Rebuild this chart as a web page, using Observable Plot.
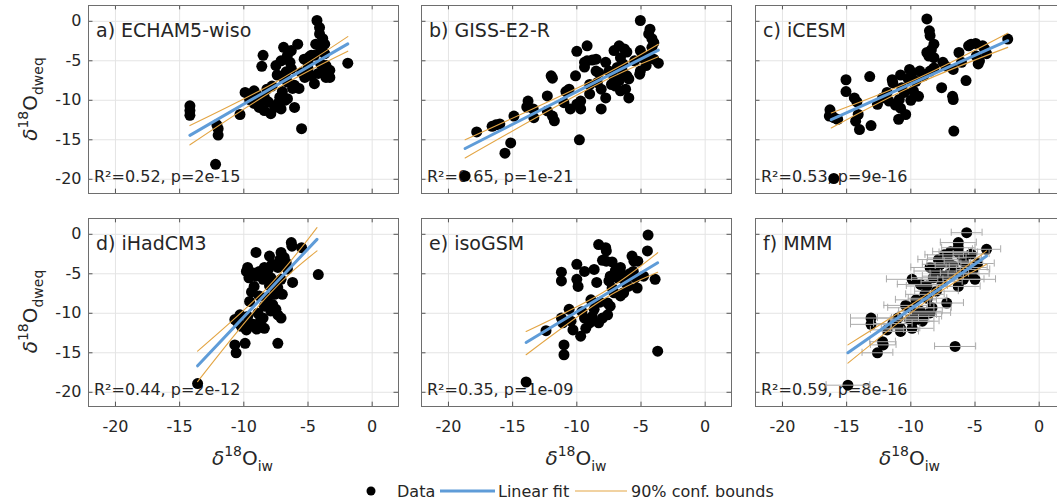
<!DOCTYPE html>
<html><head><meta charset="utf-8">
<script src="https://cdn.jsdelivr.net/npm/d3@7"></script>
<script src="https://cdn.jsdelivr.net/npm/@observablehq/plot@0.6"></script>
<style>
html,body{margin:0;padding:0;background:#fff;overflow:hidden;}
#chart{position:relative;width:1057px;height:504px;font-family:"DejaVu Sans",sans-serif;overflow:hidden;}
</style></head><body><div id="chart"></div>
<script>
const xTicks = [-20, -15, -10, -5, 0];
const yTicks = [0, -5, -10, -15, -20];
const xDomain = [-22.1, 2.05];
const yDomain = [-21.8, 2];

const titles = ["a) ECHAM5-wiso", "b) GISS-E2-R", "c) iCESM", "d) iHadCM3", "e) isoGSM", "f) MMM"];
const stats = ["R²=0.52, p=2e-15", "R²=0.65, p=1e-21", "R²=0.53, p=9e-16", "R²=0.44, p=2e-12", "R²=0.35, p=1e-09", "R²=0.59, p=8e-16"];

const ptsA = [[-14.2,-10.7],[-14.2,-11.3],[-14.2,-11.9],[-12.1,-13.1],[-12.0,-13.6],[-12.0,-14.4],[-12.2,-18.1],[-10.3,-11.8],[-9.9,-9.0],[-9.55,-9.9],[-9.2,-8.8],[-8.9,-9.4],[-8.65,-10.0],[-8.4,-9.6],[-8.1,-10.2],[-9.2,-10.4],[-8.8,-10.9],[-8.4,-11.3],[-7.9,-11.7],[-7.6,-10.9],[-7.35,-10.4],[-7.2,-9.6],[-6.8,-10.0],[-7.1,-11.1],[-6.6,-9.8],[-6.05,-10.9],[-8.5,-4.3],[-8.6,-5.7],[-7.5,-5.6],[-7.1,-5.0],[-6.9,-3.3],[-6.3,-3.7],[-6.6,-4.3],[-6.4,-5.2],[-6.3,-6.0],[-6.7,-6.4],[-6.95,-7.1],[-6.6,-7.7],[-6.05,-8.1],[-6.2,-8.5],[-5.7,-8.5],[-5.8,-2.9],[-5.5,-13.6],[-5.3,-4.8],[-5.0,-5.2],[-4.75,-4.3],[-5.25,-7.1],[-4.5,-7.9],[-4.4,-2.9],[-4.3,0.1],[-4.1,-0.8],[-4.1,-1.6],[-3.85,-2.2],[-3.7,-2.9],[-4.0,-3.5],[-3.7,-4.1],[-4.0,-5.4],[-3.6,-5.6],[-3.3,-6.2],[-3.85,-6.4],[-3.6,-7.1],[-3.3,-7.1],[-4.2,-6.6],[-1.9,-5.3],[-4.5,-4.3],[-4.9,-4.5],[-7.8,-8.2],[-7.0,-8.9],[-8.2,-8.6],[-5.5,-6.5],[-5.0,-6.0],[-7.4,-6.8],[-4.7,-6.9]];
const ptsB = [[-18.7,-19.6],[-17.8,-14.0],[-16.6,-13.3],[-16.3,-13.1],[-16.0,-13.0],[-15.6,-16.7],[-15.15,-15.4],[-14.9,-12.0],[-13.8,-10.1],[-13.9,-10.85],[-13.4,-11.1],[-13.35,-12.2],[-12.3,-9.45],[-12.3,-11.35],[-11.9,-12.0],[-11.75,-12.6],[-12.0,-6.9],[-11.9,-7.2],[-10.85,-8.9],[-10.6,-8.6],[-10.5,-11.1],[-10.1,-6.9],[-10.0,-10.5],[-9.7,-10.1],[-9.7,-11.1],[-9.8,-15.0],[-10.0,-3.8],[-9.2,-3.1],[-9.4,-5.2],[-9.2,-5.0],[-8.8,-4.9],[-8.5,-4.8],[-9.4,-5.8],[-9.0,-8.0],[-8.5,-6.3],[-8.3,-6.5],[-8.4,-7.75],[-8.1,-8.6],[-8.1,-11.1],[-7.75,-9.7],[-7.75,-5.2],[-7.1,-3.7],[-6.7,-3.1],[-6.3,-3.5],[-6.1,-3.9],[-6.6,-4.6],[-6.85,-5.85],[-6.45,-6.3],[-6.1,-6.9],[-5.95,-7.3],[-6.7,-7.5],[-7.0,-8.2],[-6.6,-8.8],[-6.2,-8.6],[-5.95,-9.7],[-7.1,-7.1],[-7.5,-6.3],[-5.05,0.1],[-4.3,-1.0],[-4.4,-1.6],[-4.15,-2.2],[-4.0,-2.7],[-5.05,-3.7],[-4.9,-4.6],[-5.05,-6.3],[-5.1,-6.7],[-4.4,-4.4],[-4.0,-4.8],[-3.65,-5.3],[-4.15,-3.3],[-11.0,-10.3],[-9.0,-9.2],[-7.3,-8.0],[-6.4,-5.4],[-5.5,-5.0],[-4.6,-5.6]];
const ptsC = [[-16.0,-19.9],[-16.3,-11.2],[-16.35,-12.0],[-16.2,-11.8],[-16.0,-12.2],[-15.7,-12.4],[-15.05,-7.4],[-15.05,-8.9],[-14.4,-9.7],[-14.2,-10.2],[-14.1,-11.8],[-14.3,-12.65],[-14.0,-13.7],[-13.1,-13.2],[-13.2,-7.0],[-12.6,-10.5],[-12.2,-9.7],[-11.85,-9.0],[-11.7,-10.1],[-11.45,-7.4],[-11.4,-7.8],[-10.8,-6.8],[-10.7,-8.4],[-10.9,-9.9],[-10.8,-11.0],[-10.95,-12.4],[-10.4,-11.8],[-10.1,-6.1],[-9.9,-6.5],[-10.2,-7.3],[-9.8,-8.8],[-9.4,-9.5],[-10.0,-10.0],[-9.3,-6.3],[-9.0,-6.9],[-8.5,-6.3],[-8.2,-5.9],[-8.75,0.3],[-8.55,-1.2],[-8.5,-1.8],[-8.2,-2.9],[-8.75,-3.95],[-8.6,-4.4],[-8.2,-4.6],[-7.5,-5.2],[-7.3,-5.65],[-7.6,-8.4],[-6.75,-9.5],[-6.7,-9.9],[-6.65,-13.9],[-6.7,-6.1],[-6.25,-3.95],[-6.05,-5.2],[-5.7,-7.5],[-5.5,-3.1],[-5.3,-2.9],[-4.95,-2.8],[-4.4,-3.1],[-4.25,-3.5],[-4.9,-4.4],[-4.65,-5.0],[-4.75,-5.4],[-4.1,-4.1],[-2.45,-2.25],[-8.4,-3.6],[-10.5,-9.0],[-11.2,-10.6],[-9.6,-7.6]];
const ptsD = [[-13.6,-18.9],[-10.7,-14.0],[-10.6,-15.0],[-9.9,-13.8],[-10.7,-10.8],[-10.3,-10.2],[-10.45,-11.2],[-10.2,-11.65],[-9.8,-12.1],[-9.55,-11.65],[-9.3,-11.4],[-9.7,-10.4],[-9.55,-8.5],[-9.2,-6.6],[-9.05,-5.3],[-9.3,-4.9],[-9.8,-4.7],[-9.7,-4.2],[-9.05,-2.3],[-8.8,-4.7],[-8.4,-4.2],[-8.5,-5.7],[-8.8,-7.8],[-8.4,-9.1],[-8.9,-10.0],[-8.5,-10.6],[-8.4,-11.9],[-8.1,-4.45],[-8.0,-2.75],[-7.9,-5.5],[-7.7,-6.1],[-7.6,-7.6],[-7.75,-8.9],[-7.9,-9.7],[-7.35,-10.2],[-7.1,-10.6],[-7.35,-13.8],[-7.35,-4.2],[-7.1,-2.3],[-6.85,-2.95],[-6.7,-3.6],[-7.2,-3.2],[-7.1,-5.7],[-7.35,-6.8],[-6.3,-1.05],[-6.25,-1.5],[-6.2,-6.1],[-5.5,-1.7],[-4.2,-5.1],[-9.9,-11.5],[-9.0,-12.0],[-8.7,-10.9],[-8.2,-8.0],[-7.5,-9.5],[-7.0,-7.6],[-8.0,-6.5],[-9.4,-7.3],[-7.8,-3.8],[-6.6,-4.4],[-9.6,-5.5],[-8.3,-5.0]];
const ptsE = [[-13.95,-18.7],[-12.4,-12.2],[-11.2,-4.8],[-11.2,-5.9],[-11.2,-10.6],[-11.1,-11.2],[-11.0,-14.0],[-11.0,-15.25],[-10.45,-11.0],[-10.3,-12.1],[-9.7,-12.9],[-10.0,-3.8],[-10.0,-5.7],[-9.9,-6.6],[-9.4,-4.7],[-9.0,-11.2],[-9.3,-11.9],[-9.4,-10.6],[-8.9,-8.3],[-8.65,-9.5],[-8.8,-10.4],[-8.65,-4.45],[-8.45,-6.1],[-8.3,-11.2],[-8.0,-10.6],[-7.6,-10.2],[-8.3,-1.3],[-7.75,-1.7],[-7.7,-2.1],[-8.0,-3.3],[-7.7,-3.4],[-7.25,-3.5],[-7.5,-5.9],[-7.4,-5.3],[-7.25,-6.8],[-7.1,-7.4],[-7.6,-8.7],[-7.4,-9.1],[-6.6,-4.2],[-6.5,-5.1],[-6.85,-5.5],[-6.2,-6.1],[-6.35,-7.4],[-6.6,-7.8],[-6.0,-6.6],[-5.7,-2.75],[-5.55,-3.4],[-5.25,-3.4],[-5.6,-4.7],[-5.45,-5.5],[-5.3,-6.8],[-4.45,-0.1],[-4.5,-2.1],[-3.9,-5.7],[-3.7,-14.8],[-4.8,-5.3],[-9.6,-9.8],[-8.2,-8.6],[-7.0,-4.6],[-5.9,-5.0],[-10.6,-9.5]];
// MMM: [x, y, horizontal error half-width]
const ptsF = [[-14.9,-19.1,1.7],[-12.6,-15.0,1.2],[-12.2,-13.6,1.0],[-12.15,-14.0,1.0],[-13.1,-10.6,1.6],[-13.1,-11.4,1.6],[-11.85,-12.1,1.3],[-10.8,-11.9,1.5],[-10.8,-12.3,1.4],[-9.9,-11.9,1.7],[-9.8,-11.0,1.6],[-9.9,-5.7,2.0],[-10.0,-9.3,1.8],[-9.5,-10.2,1.5],[-9.25,-9.75,1.7],[-9.1,-11.0,1.3],[-9.0,-10.4,1.4],[-8.5,-9.95,1.6],[-8.35,-9.3,1.5],[-9.25,-6.35,1.8],[-8.9,-7.6,1.5],[-8.75,-6.55,1.6],[-8.5,-4.2,1.5],[-8.25,-5.5,1.7],[-7.85,-3.2,1.6],[-7.7,-3.8,1.4],[-7.95,-4.65,1.8],[-7.5,-5.3,1.6],[-7.2,-3.0,1.5],[-7.05,-3.6,1.7],[-7.2,-8.7,1.3],[-6.3,-1.05,1.4],[-6.3,-1.7,1.3],[-6.3,-2.3,1.5],[-6.55,-14.2,1.6],[-5.65,0.2,1.2],[-5.9,-3.4,1.5],[-5.3,-2.5,1.4],[-5.65,-4.2,1.6],[-6.2,-4.9,1.5],[-6.3,-6.6,1.7],[-5.9,-5.7,1.6],[-5.0,-5.7,1.6],[-5.15,-4.45,1.3],[-4.1,-1.9,1.1],[-11.4,-11.3,1.5],[-11.0,-10.6,1.6],[-10.4,-9.0,1.7],[-10.1,-10.8,1.5],[-9.6,-8.3,1.6],[-8.7,-8.1,1.5],[-8.0,-7.2,1.7],[-7.6,-6.0,1.6],[-7.0,-5.0,1.5],[-6.7,-4.0,1.4],[-6.0,-2.9,1.5],[-5.5,-5.0,1.6],[-4.8,-3.7,1.3],[-6.9,-2.2,1.4],[-7.4,-2.6,1.5]];

// Linear fits (end points) and 90% confidence bounds (left, centre, right)
const fitX = [[-14.2,-1.9],[-18.7,-3.65],[-16.2,-2.45],[-13.6,-4.3],[-13.95,-3.7],[-14.9,-4.1]];
const fitY = [[-14.44,-2.86],[-16.1,-3.65],[-12.45,-2.46],[-16.65,-0.64],[-13.7,-3.6],[-15.0,-2.75]];
const boundX = [[-14.2,-7.5,-1.9],[-18.7,-9,-3.65],[-16.2,-9.5,-2.45],[-13.6,-8.2,-4.3],[-13.95,-8,-3.7],[-14.9,-8.5,-4.1]];
const upperY = [[-13.2,-7.68,-1.94],[-15.0,-7.68,-2.9],[-11.6,-7.23,-1.5],[-14.8,-6.8,0.85],[-12.3,-7.39,-2.33],[-14.0,-7.34,-2.1]];
const lowerY = [[-15.64,-8.58,-3.78],[-17.3,-8.48,-4.5],[-13.5,-7.93,-3.3],[-18.65,-7.9,-2.1],[-15.25,-8.29,-4.8],[-16.3,-8.14,-3.8]];

const allPts = [ptsA, ptsB, ptsC, ptsD, ptsE, ptsF];

const TXT = "#262626", GRID = "#e4e4e4", FRAME = "#6e6e6e";
const BLUE = "#5f9cd8", ORANGE = "#e3a544";
const lefts = [87.5, 421, 754.5], tops = [5, 217.5];
const PW = 310, PH = 188;
const chart = document.getElementById("chart");

allPts.forEach((raw, i) => {
  const col = i % 3, row = Math.floor(i / 3);
  const mL = col === 0 ? 60 : 10, mR = 10, mT = 5, mB = row === 1 ? 40 : 10;
  const pts = raw.map(d => ({x: d[0], y: d[1], e: d[2]}));
  const fit = fitX[i].map((x, j) => ({x, y: fitY[i][j]}));
  const up = boundX[i].map((x, j) => ({x, y: upperY[i][j]}));
  const lo = boundX[i].map((x, j) => ({x, y: lowerY[i][j]}));
  const marks = [
    Plot.ruleX(xTicks, {x: d => d, stroke: GRID}),
    Plot.ruleY(yTicks, {y: d => d, stroke: GRID}),
    Plot.ruleY(yTicks, {y: d => d, x1: xDomain[0], x2: xDomain[0] + 0.35, stroke: "#555"}),
    Plot.ruleY(yTicks, {y: d => d, x1: xDomain[1] - 0.35, x2: xDomain[1], stroke: "#555"}),
    Plot.ruleX(xTicks, {x: d => d, y1: yDomain[0], y2: yDomain[0] + 0.55, stroke: "#555"}),
    Plot.ruleX(xTicks, {x: d => d, y1: yDomain[1] - 0.55, y2: yDomain[1], stroke: "#555"}),
    Plot.text([titles[i]], {text: d => d, frameAnchor: "top-left", dx: 7.5, dy: 17.5, textAnchor: "start", fontSize: 19, fill: TXT}),
    Plot.text([stats[i]], {text: d => d, frameAnchor: "bottom-left", dx: 5.5, dy: -11.5, textAnchor: "start", fontSize: 16, fill: TXT}),
    Plot.dot(pts, {x: "x", y: "y", r: 5.5, fill: "#000", stroke: "none"})
  ];
  if (raw[0].length > 2) {
    marks.push(
      Plot.ruleY(pts, {y: "y", x1: d => d.x - d.e, x2: d => d.x + d.e, stroke: "#ababab", strokeWidth: 1}),
      Plot.ruleX(pts, {x: d => d.x - d.e, y1: d => d.y - 0.45, y2: d => d.y + 0.45, stroke: "#ababab", strokeWidth: 1}),
      Plot.ruleX(pts, {x: d => d.x + d.e, y1: d => d.y - 0.45, y2: d => d.y + 0.45, stroke: "#ababab", strokeWidth: 1})
    );
  }
  marks.push(
    Plot.line(fit, {x: "x", y: "y", stroke: BLUE, strokeWidth: 3}),
    Plot.line(up, {x: "x", y: "y", stroke: ORANGE, strokeWidth: 1.1, curve: "natural"}),
    Plot.line(lo, {x: "x", y: "y", stroke: ORANGE, strokeWidth: 1.1, curve: "natural"}),
    Plot.frame({stroke: FRAME})
  );
  const svg = Plot.plot({
    width: PW + mL + mR, height: PH + mT + mB,
    marginLeft: mL, marginRight: mR, marginTop: mT, marginBottom: mB,
    x: {domain: xDomain, ticks: xTicks, tickSize: 0, tickPadding: 14, tickFormat: d => String(d), label: null, axis: row === 1 ? "bottom" : null},
    y: {domain: yDomain, ticks: yTicks, tickSize: 0, tickPadding: 7, tickFormat: d => String(d), label: null, axis: col === 0 ? "left" : null},
    style: {background: "transparent", color: TXT, fontSize: "16px", fontFamily: "DejaVu Sans, sans-serif", overflow: "visible"},
    marks
  });
  svg.style.position = "absolute";
  svg.style.left = (lefts[col] - mL) + "px";
  svg.style.top = (tops[row] - mT) + "px";
  svg.style.maxWidth = "none";
  chart.appendChild(svg);
});

// Overlay: axis labels and legend
const ov = d3.select(chart).append("svg")
  .attr("width", 1057).attr("height", 504)
  .style("position", "absolute").style("left", "0px").style("top", "0px")
  .style("font-family", "DejaVu Sans, sans-serif").style("pointer-events", "none");

function deltaLabel(sel, sub) {
  sel.append("tspan").attr("font-style", "italic").attr("font-size", 20).text("δ");
  sel.append("tspan").attr("font-size", 14).attr("dy", -9).text("18");
  sel.append("tspan").attr("font-size", 20).attr("dy", 9).text("O");
  sel.append("tspan").attr("font-size", 14).attr("dy", 6).text(sub);
}
[(tops[0] + PH / 2), (tops[1] + PH / 2)].forEach(cy => {
  const t = ov.append("text").attr("transform", `translate(37,${cy}) rotate(-90)`)
    .attr("text-anchor", "middle").attr("fill", TXT);
  deltaLabel(t, "dweq");
});
lefts.forEach(l => {
  const t = ov.append("text").attr("x", l + PW / 2).attr("y", 465)
    .attr("text-anchor", "middle").attr("fill", TXT);
  deltaLabel(t, "iw");
});

const legendItems = ["Data", "Linear fit", "90% conf. bounds"];
const lg = ov.append("g").attr("font-size", 16).attr("fill", TXT);
lg.append("circle").attr("cx", 371).attr("cy", 491).attr("r", 4.5).attr("fill", "#000");
lg.append("text").attr("x", 397).attr("y", 496.5).text(legendItems[0]);
lg.append("line").attr("x1", 440).attr("x2", 495).attr("y1", 491).attr("y2", 491).attr("stroke", BLUE).attr("stroke-width", 3);
lg.append("text").attr("x", 498).attr("y", 496.5).text(legendItems[1]);
lg.append("line").attr("x1", 575).attr("x2", 627).attr("y1", 491).attr("y2", 491).attr("stroke", ORANGE).attr("stroke-width", 1.2);
lg.append("text").attr("x", 631).attr("y", 496.5).text(legendItems[2]);
</script></body></html>
